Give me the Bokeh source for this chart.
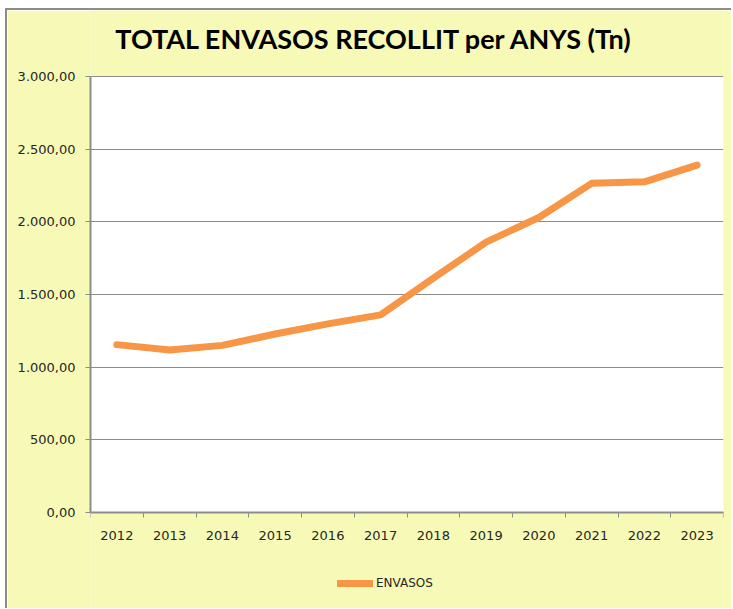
from bokeh.plotting import figure
from bokeh.models import Range1d, FixedTicker, Legend, LegendItem, BoxAnnotation, Label
from bokeh.embed import file_html
from bokeh.resources import INLINE

title_text = "TOTAL ENVASOS RECOLLIT per ANYS (Tn)"
years = ["2012", "2013", "2014", "2015", "2016", "2017", "2018", "2019", "2020", "2021", "2022", "2023"]
envasos = [1155, 1118, 1150, 1228, 1298, 1360, 1612, 1860, 2030, 2265, 2275, 2390]
y_ticks = [0, 500, 1000, 1500, 2000, 2500, 3000]
y_tick_labels = ["0,00", "500,00", "1.000,00", "1.500,00", "2.000,00", "2.500,00", "3.000,00"]

BG = "#F6FAB6"
AX = "#8C8C8C"
TXT = "#262626"

x_pos = [i + 0.5 for i in range(len(years))]
boundaries = list(range(len(years) + 1))

# layout (pixels): plot area 436 px tall for 0..3000, 66 px above it, 98 px below it
W, H = 726, 600
Y_MAX = 3000
PLOT_H = 436
ABOVE = 66
BELOW = H - PLOT_H - ABOVE
y_lo = -Y_MAX * BELOW / PLOT_H
y_hi = Y_MAX + Y_MAX * ABOVE / PLOT_H

p = figure(width=W, height=H, output_backend="svg", toolbar_location=None,
           x_range=Range1d(0, len(years)), y_range=Range1d(y_lo, y_hi),
           min_border_left=83, min_border_right=10, min_border_top=0, min_border_bottom=0,
           background_fill_color=BG, border_fill_color=BG,
           styles={"margin-left": "5px", "margin-top": "8px",
                   "border-left": "2px solid #8C8C8C", "border-top": "2px solid #8C8C8C"})
p.outline_line_color = None

plot_area = BoxAnnotation(left=0, right=len(years), bottom=0, top=Y_MAX,
                          fill_color="white", fill_alpha=1, line_color=None, level="image")
p.add_layout(plot_area)

title = Label(x=284, y=H - 28, x_units="screen", y_units="screen", text=title_text,
              text_align="center", text_baseline="alphabetic",
              text_font="Lato", text_font_style="bold", text_font_size="27px",
              text_color="black")
p.add_layout(title)

r = p.line(x_pos, envasos, line_color="#F79646", line_width=7, line_cap="round", line_join="round")

# axes
p.xaxis.fixed_location = 0
p.xaxis.ticker = FixedTicker(ticks=x_pos, minor_ticks=boundaries)
p.xaxis.major_label_overrides = {x: y for x, y in zip(x_pos, years)}
p.xaxis.major_tick_line_color = None
p.xaxis.minor_tick_line_color = AX
p.xaxis.minor_tick_out = 5
p.xaxis.minor_tick_in = 0
p.xaxis.axis_line_color = AX
p.xaxis.axis_line_width = 2
p.xaxis.major_label_standoff = 12

p.yaxis.bounds = (0, Y_MAX)
p.yaxis.ticker = FixedTicker(ticks=y_ticks)
p.yaxis.major_label_overrides = {t: l for t, l in zip(y_ticks, y_tick_labels)}
p.yaxis.major_tick_line_color = AX
p.yaxis.major_tick_out = 5
p.yaxis.major_tick_in = 0
p.yaxis.minor_tick_line_color = None
p.yaxis.axis_line_color = AX
p.yaxis.axis_line_width = 2
p.yaxis.major_label_standoff = 10

for ax in (p.xaxis, p.yaxis):
    ax.major_label_text_font = "DejaVu Sans"
    ax.major_label_text_font_size = "13px"
    ax.major_label_text_color = TXT

p.xgrid.grid_line_color = None
p.ygrid.grid_line_color = AX
p.ygrid.grid_line_width = 1

legend = Legend(items=[LegendItem(label="ENVASOS", renderers=[r])],
                location=(247, 20), orientation="horizontal",
                background_fill_alpha=0, border_line_color=None,
                glyph_width=36, glyph_height=14, label_standoff=3,
                padding=0, margin=0,
                label_text_font="DejaVu Sans", label_text_font_size="12px",
                label_text_color=TXT)
p.add_layout(legend, "center")

open("out.html", "w").write(file_html(p, INLINE))
